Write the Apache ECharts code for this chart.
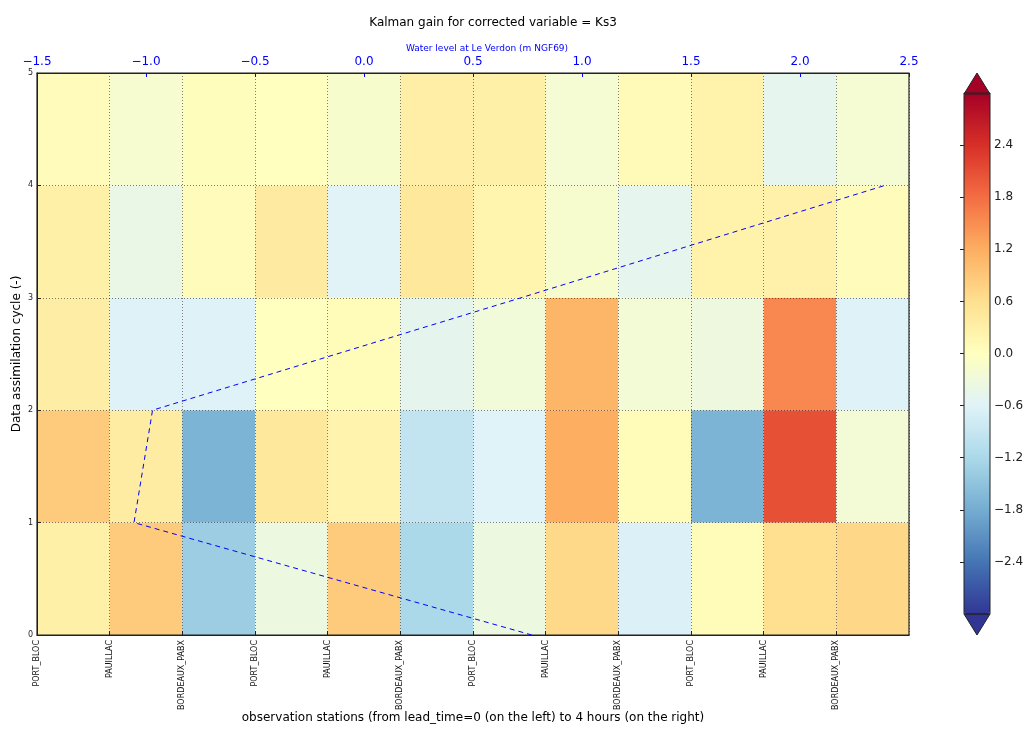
<!DOCTYPE html>
<html>
<head>
    <meta charset="utf-8">
    <title>Kalman gain Ks3</title>
    <script src="https://cdn.jsdelivr.net/npm/echarts@6/dist/echarts.min.js"></script>
    <style>
        html, body { margin: 0; padding: 0; background: #fff; }
        #chart { width: 1024px; height: 729px; }
    </style>
</head>
<body>
<div id="chart"></div>
<script>
// stations, repeated for each lead time (0 to 4 hours)
var stations = ['PORT_BLOC', 'PAUILLAC', 'BORDEAUX_PABX',
                'PORT_BLOC', 'PAUILLAC', 'BORDEAUX_PABX',
                'PORT_BLOC', 'PAUILLAC', 'BORDEAUX_PABX',
                'PORT_BLOC', 'PAUILLAC', 'BORDEAUX_PABX'];
var cycles = [0, 1, 2, 3, 4];

// Kalman gain, one row per assimilation cycle
var gainCycle0 = [0.30, 0.85, -1.36, -0.35, 0.87, -1.20, -0.35, 0.68, -0.65, 0.08, 0.60, 0.70];
var gainCycle1 = [0.85, 0.37, -1.71, 0.45, 0.23, -0.94, -0.60, 1.20, 0.08, -1.71, 2.08, -0.24];
var gainCycle2 = [0.35, -0.62, -0.62, 0.00, 0.08, -0.50, -0.27, 1.12, -0.24, -0.33, 1.55, -0.62];
var gainCycle3 = [0.29, -0.41, 0.07, 0.40, -0.58, 0.45, 0.20, -0.16, -0.48, 0.24, 0.27, 0.05];
var gainCycle4 = [0.05, -0.17, 0.04, 0.00, -0.15, 0.32, 0.30, -0.20, 0.10, 0.24, -0.48, -0.20];
var gainRows = [gainCycle0, gainCycle1, gainCycle2, gainCycle3, gainCycle4];

// water level at Le Verdon for each cycle (top axis)
var waterLevel = [0.77, -1.055, -0.97, 0.72, 2.39];

// colorbar ticks
var cbarTicks = [-2.4, -1.8, -1.2, -0.6, 0.0, 0.6, 1.2, 1.8, 2.4];

var rdylbu_r = ['#313695', '#4575b4', '#74add1', '#abd9e9', '#e0f3f8', '#ffffbf',
                '#fee090', '#fdae61', '#f46d43', '#d73027', '#a50026'];

var cells = [];
for (var r = 0; r < gainRows.length; r++) {
    for (var c = 0; c < stations.length; c++) {
        cells.push([c, cycles[r], gainRows[r][c]]);
    }
}
var linePts = [];
for (var i = 0; i < cycles.length; i++) {
    linePts.push([waterLevel[i], cycles[i]]);
}

function minus(s) { return String(s).replace('-', '\u2212'); }

var font = 'DejaVu Sans';
var chart = echarts.init(document.getElementById('chart'));

var option = {
    backgroundColor: '#fff',
    textStyle: { fontFamily: font },
    animation: false,
    title: {
        text: 'Kalman gain for corrected variable = Ks3',
        left: 488, top: 12, textAlign: 'center',
        textStyle: { fontSize: 12, fontWeight: 'normal', color: '#000', fontFamily: font }
    },
    grid: [
        { left: 37, top: 73, width: 872, height: 562, show: true, borderColor: '#222', borderWidth: 1.2,
          backgroundColor: 'transparent', z: 5, outerBoundsMode: 'none', containLabel: false },
        { left: 964, top: 93, width: 26, height: 521, show: false, outerBoundsMode: 'none', containLabel: false }
    ],
    visualMap: {
        type: 'continuous',
        min: -3, max: 3,
        dimension: 2,
        seriesIndex: 0,
        calculable: false,
        hoverLink: false,
        orient: 'vertical',
        left: 964, top: 93,
        padding: 0,
        itemWidth: 26, itemHeight: 521,
        text: null,
        showLabel: false,
        inRange: { color: rdylbu_r }
    },
    xAxis: [
        {
            type: 'value', gridIndex: 0, position: 'bottom',
            min: 0, max: 12, interval: 1, z: 4,
            axisLine: { lineStyle: { color: '#222' } },
            axisTick: { inside: true, length: 4, lineStyle: { color: '#222' } },
            axisLabel: {
                rotate: 90, fontSize: 8, color: '#111', margin: 5,
                showMaxLabel: false,
                formatter: function (v) { return stations[v] || ''; }
            },
            splitLine: { show: true, lineStyle: { color: 'rgba(0,0,0,0.5)', type: [1, 2], width: 1 } },
            name: 'observation stations (from lead_time=0 (on the left) to 4 hours (on the right)',
            nameLocation: 'middle', nameGap: 77, nameMoveOverlap: false,
            nameTextStyle: { fontSize: 12, color: '#000' }
        },
        {
            type: 'value', gridIndex: 0, position: 'top',
            min: -1.5, max: 2.5, interval: 0.5, z: 4,
            axisLine: { lineStyle: { color: '#222' } },
            axisTick: { inside: true, length: 4, lineStyle: { color: '#0000ff' } },
            axisLabel: {
                color: '#0000ff', fontSize: 12, margin: 5,
                formatter: function (v) { return minus(v.toFixed(1)); }
            },
            splitLine: { show: false },
            name: 'Water level at Le Verdon (m NGF69)',
            nameLocation: 'middle', nameGap: 20, nameMoveOverlap: false,
            nameTextStyle: { fontSize: 9, color: '#0000ff', padding: [0, 0, 0, 28] }
        },
        {
            type: 'value', gridIndex: 1, min: 0, max: 1, show: false
        }
    ],
    yAxis: [
        {
            type: 'value', gridIndex: 0,
            min: 0, max: 5, interval: 1, z: 4,
            axisLine: { lineStyle: { color: '#222' } },
            axisTick: { inside: true, length: 4, lineStyle: { color: '#222' } },
            axisLabel: { fontSize: 8, color: '#222', margin: 4 },
            splitLine: { show: true, lineStyle: { color: 'rgba(0,0,0,0.5)', type: [1, 2], width: 1 } },
            name: 'Data assimilation cycle (-)',
            nameLocation: 'middle', nameGap: 14, nameMoveOverlap: false,
            nameTextStyle: { fontSize: 12, color: '#000' }
        },
        {
            type: 'value', gridIndex: 1, position: 'right',
            min: -3, max: 3, interval: 0.6,
            axisLine: { show: false },
            axisTick: { show: true, inside: true, length: 4, lineStyle: { color: '#222' } },
            axisLabel: {
                fontSize: 12, color: '#222', margin: 4,
                showMinLabel: false, showMaxLabel: false,
                formatter: function (v) {
                    var t = Math.round(v * 10) / 10;
                    if (cbarTicks.indexOf(t) < 0) return '';
                    return minus(t.toFixed(1));
                }
            },
            splitLine: { show: false },
            z: 6
        }
    ],
    series: [
        {
            type: 'custom',
            xAxisIndex: 0, yAxisIndex: 0,
            z: 2,
            encode: { x: 0, y: 1 },
            data: cells,
            renderItem: function (params, api) {
                var x = api.value(0), y = api.value(1);
                var p0 = api.coord([x, y + 1]);
                var p1 = api.coord([x + 1, y]);
                return {
                    type: 'rect',
                    shape: { x: p0[0], y: p0[1], width: p1[0] - p0[0], height: p1[1] - p0[1] },
                    style: { fill: api.visual('color') }
                };
            }
        },
        {
            type: 'line',
            xAxisIndex: 1, yAxisIndex: 0,
            z: 6,
            data: linePts,
            showSymbol: false,
            symbol: 'none',
            lineStyle: { color: '#0000ff', width: 1, type: [5, 4] }
        }
    ],
    // colorbar extension triangles and outline
    graphic: [
        { type: 'polygon', z: 10, shape: { points: [[964, 94], [977, 73], [990, 94]] }, style: { fill: '#a50026', stroke: '#222', lineWidth: 1 } },
        { type: 'polygon', z: 10, shape: { points: [[964, 614], [977, 635], [990, 614]] }, style: { fill: '#313695', stroke: '#222', lineWidth: 1 } },
        { type: 'rect', z: 10, shape: { x: 964, y: 93, width: 26, height: 521 }, style: { fill: 'none', stroke: '#222', lineWidth: 1 } }
    ]
};

chart.setOption(option);
</script>
</body>
</html>
